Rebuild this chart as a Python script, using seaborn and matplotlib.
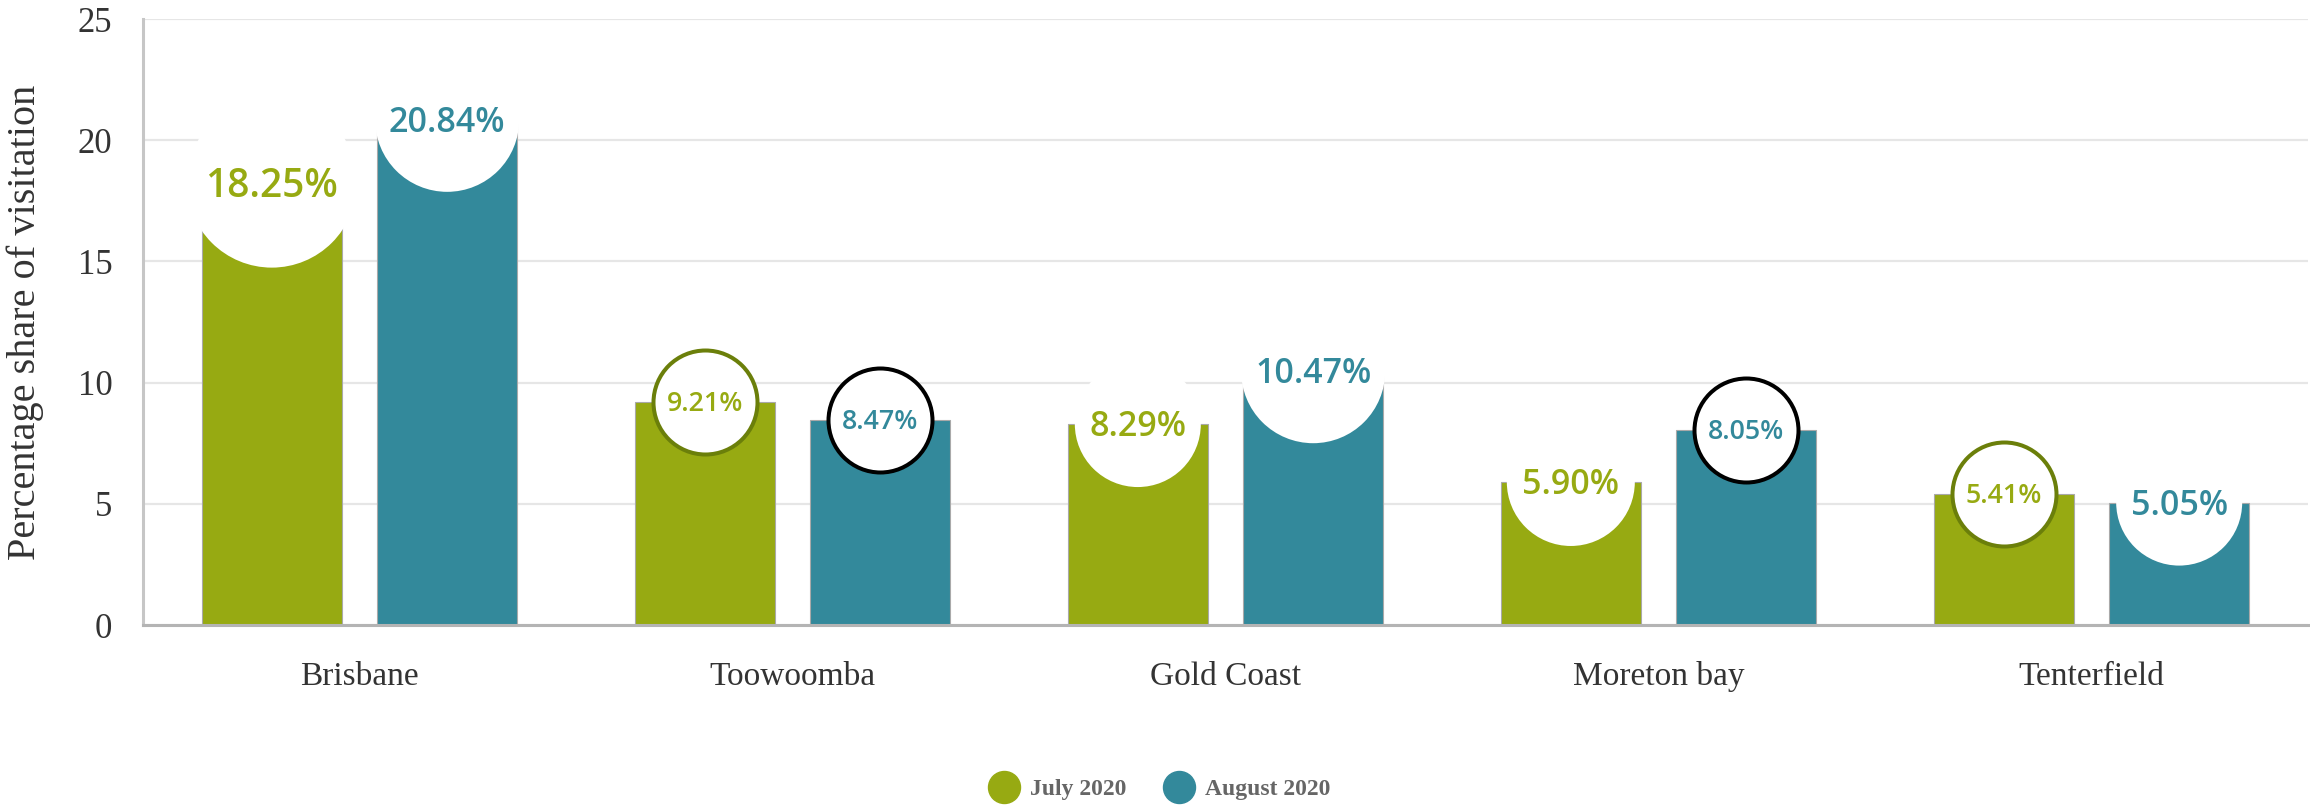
import matplotlib
matplotlib.use("Agg")
import matplotlib.pyplot as plt
from matplotlib.lines import Line2D
import pandas as pd
import seaborn as sns

# --- data -------------------------------------------------------------
regions = ["Brisbane", "Toowoomba", "Gold Coast", "Moreton bay", "Tenterfield"]
months = ["July 2020", "August 2020"]
july_share = [18.25, 9.21, 8.29, 5.90, 5.41]
august_share = [20.84, 8.47, 10.47, 8.05, 5.05]

# --- styling ----------------------------------------------------------
OLIVE = "#97AA12"
TEAL = "#33899B"
OLIVE_RING = "#6B7F0A"
TEAL_RING = "#000000"

# bubble radius (px) and label size (pt) for each value label
july_bubble_px = [85, 54, 63, 64, 54]
august_bubble_px = [72, 54, 72, 54, 63]
july_label_pt = [28, 19.3, 24.5, 24.5, 19.3]
august_label_pt = [24.5, 19.3, 24.5, 19.3, 24.5]
july_ringed = [False, True, False, False, True]
august_ringed = [False, True, False, True, False]

W, H, DPI = 2310, 809, 100
PT = 72 / DPI  # points per pixel

sns.set_theme(style="white")
plt.rcParams["font.family"] = ["Liberation Serif", "DejaVu Serif"]

df = pd.DataFrame({
    "region": regions * 2,
    "month": [months[0]] * len(regions) + [months[1]] * len(regions),
    "share": july_share + august_share,
})

fig = plt.figure(figsize=(W / DPI, H / DPI), dpi=DPI)
ax = fig.add_axes([143 / W, 1 - 625 / H, (2308 - 143) / W, (625 - 19) / H])

sns.barplot(data=df, x="region", y="share", hue="month", order=regions,
            hue_order=months, palette=[OLIVE, TEAL], width=0.81, gap=0.2,
            errorbar=None, edgecolor="#a9a9a9", linewidth=0.8,
            saturation=1, legend=False, ax=ax, zorder=2)

ax.set_xlim(-0.5, len(regions) - 0.5)
ax.set_ylim(0, 25)
ax.set_yticks([0, 5, 10, 15, 20, 25])
ax.yaxis.grid(True, color="#e6e6e6", linewidth=1.6)
ax.set_axisbelow(True)

for side in ("top", "right"):
    ax.spines[side].set_visible(False)
ax.spines["left"].set_color("#c6c6c6")
ax.spines["left"].set_linewidth(2.2)
ax.spines["bottom"].set_color("#b4b4b4")
ax.spines["bottom"].set_linewidth(2.2)

ax.tick_params(axis="y", length=0, pad=22, labelsize=25, labelcolor="#333333")
ax.tick_params(axis="x", length=0, pad=26, labelsize=24, labelcolor="#333333")
ax.set_xlabel("")
ax.set_ylabel("Percentage share of visitation", fontsize=29, color="#333333")
ax.yaxis.set_label_coords((44 - 143) / (2308 - 143), 0.5)

# --- value bubbles ----------------------------------------------------
series = [
    (july_share, july_bubble_px, july_label_pt, july_ringed, OLIVE, OLIVE_RING),
    (august_share, august_bubble_px, august_label_pt, august_ringed, TEAL, TEAL_RING),
]
RING_PX = 4
for container, (vals, radii, sizes, ringed, color, ring) in zip(ax.containers, series):
    for bar, val, r, fs, has_ring in zip(container.patches, vals, radii, sizes, ringed):
        x = bar.get_x() + bar.get_width() / 2
        y = bar.get_height()
        if has_ring:
            diam = 2 * (r - RING_PX / 2) * PT
            ax.scatter([x], [y], s=diam ** 2, marker="o", facecolor="white",
                       edgecolor=ring, linewidth=RING_PX * PT, zorder=3,
                       clip_on=False)
        else:
            diam = 2 * r * PT
            ax.scatter([x], [y], s=diam ** 2, marker="o", facecolor="white",
                       edgecolor="none", zorder=3, clip_on=False)
        ax.annotate(f"{val:.2f}%", (x, y), xytext=(0, -0.357 * fs),
                    textcoords="offset points", ha="center", va="baseline",
                    fontsize=fs, color=color, family=["Open Sans", "Noto Sans", "DejaVu Sans"],
                    fontweight="semibold", zorder=4, annotation_clip=False)

# --- legend -----------------------------------------------------------
handles = [Line2D([], [], linestyle="none", marker="o", markersize=32 * PT,
                  markerfacecolor=c, markeredgecolor=c) for c in (OLIVE, TEAL)]
fig.legend(handles, months, loc="center", bbox_to_anchor=(1159 / W, 1 - 789 / H),
           ncol=2, frameon=False, handlelength=1.4, handletextpad=0.4,
           columnspacing=1.5, borderpad=0,
           prop={"family": "Liberation Serif", "weight": "bold", "size": 17},
           labelcolor="#666666")

fig.savefig("out.png", dpi=DPI, facecolor="white")
